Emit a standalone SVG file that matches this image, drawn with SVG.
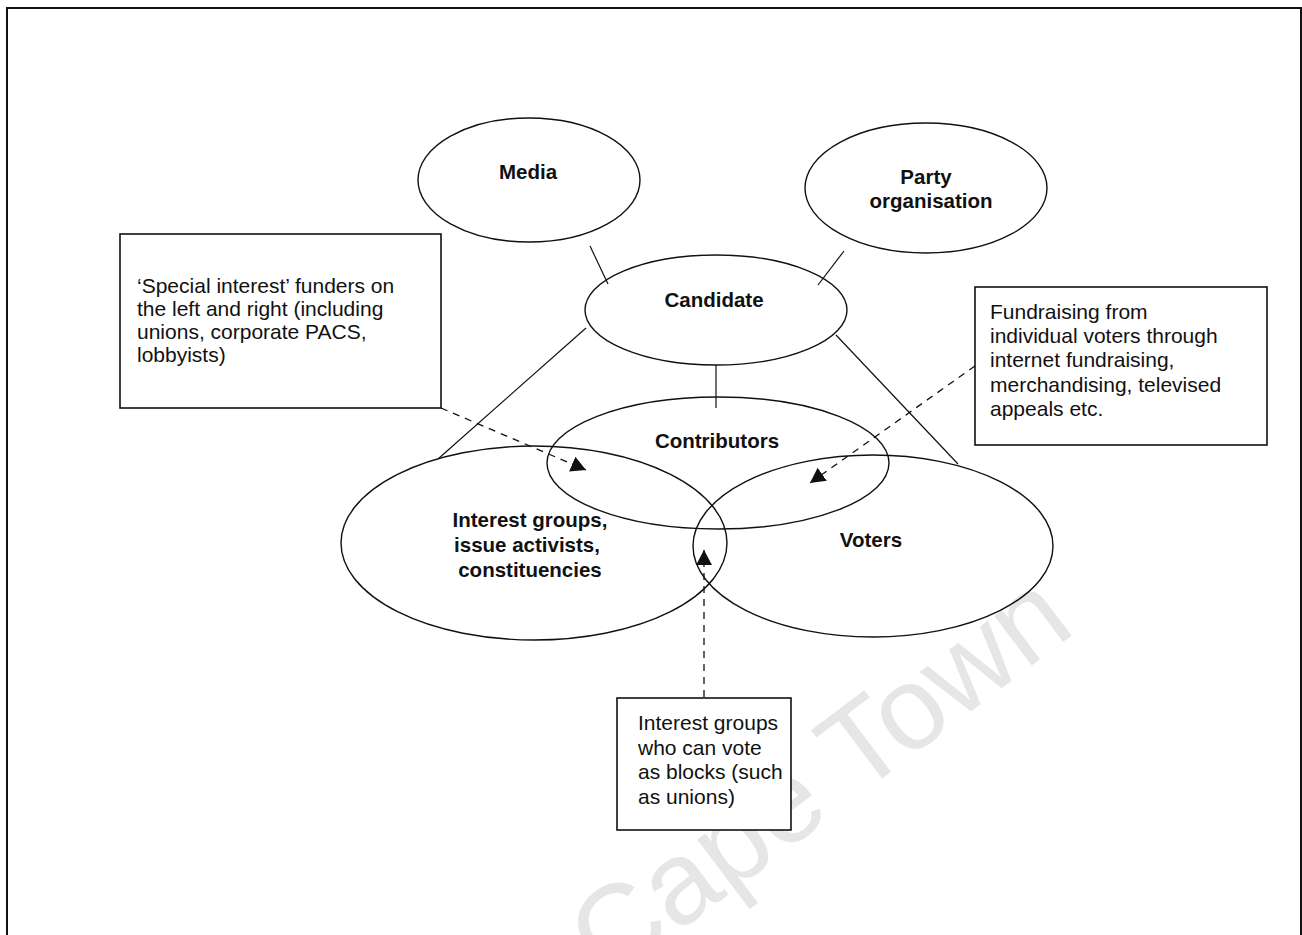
<svg xmlns="http://www.w3.org/2000/svg" width="1302" height="935" viewBox="0 0 1302 935">
<style>
.bg{fill:#fff}
.frame{fill:none;stroke:#111;stroke-width:2}
.node{fill:none;stroke:#111;stroke-width:1.4}
.box{fill:#fff;stroke:#111;stroke-width:1.6}
.lbl{font-family:"Liberation Sans",Arial,sans-serif;font-size:20.5px;font-weight:bold;fill:#111;text-anchor:middle}
.txt{font-family:"Liberation Sans",Arial,sans-serif;font-size:21px;fill:#111}
.link{fill:none;stroke:#111;stroke-width:1.2}
.dash{fill:none;stroke:#111;stroke-width:1.3;stroke-dasharray:7,6}
.wm{font-family:"Liberation Sans",Arial,sans-serif;font-size:118px;fill:#e6e6e6}
</style>
<defs>
<marker id="ah" markerWidth="18" markerHeight="18" refX="15" refY="8" orient="auto" markerUnits="userSpaceOnUse">
<path d="M0,0 L15,8 L0,16 Z" fill="#111"/>
</marker>
</defs>
<rect class="bg" x="0" y="0" width="1302" height="935"/>
<text class="wm" transform="translate(608,985) rotate(-37)">Cape Town</text>
<path class="frame" d="M7,935 L7,8 L1301,8 L1301,935"/>
<g id="connectors">
<line class="link" x1="590" y1="246" x2="608" y2="284"/>
<line class="link" x1="844" y1="251" x2="818" y2="285"/>
<line class="link" x1="586" y1="328" x2="438" y2="459"/>
<line class="link" x1="836" y1="335" x2="958" y2="464"/>
<line class="link" x1="716" y1="365" x2="716" y2="408"/>
<line class="dash" x1="441" y1="408" x2="586" y2="470" marker-end="url(#ah)"/>
<line class="dash" x1="975" y1="366" x2="810" y2="483" marker-end="url(#ah)"/>
<line class="dash" x1="704" y1="697" x2="704" y2="550" marker-end="url(#ah)"/>
</g>
<g id="media">
<ellipse class="node" cx="529" cy="180" rx="111" ry="62"/>
<text class="lbl" x="528" y="179">Media</text>
</g>
<g id="party">
<ellipse class="node" cx="926" cy="188" rx="121" ry="65"/>
<text class="lbl" x="926" y="184">Party</text>
<text class="lbl" x="931" y="208">organisation</text>
</g>
<g id="candidate">
<ellipse class="node" cx="716" cy="310" rx="131" ry="55"/>
<text class="lbl" x="714" y="307">Candidate</text>
</g>
<g id="contributors">
<ellipse class="node" cx="718" cy="463" rx="171" ry="66"/>
<text class="lbl" x="717" y="448">Contributors</text>
</g>
<g id="interest-groups">
<ellipse class="node" cx="534" cy="543" rx="193" ry="97"/>
<text class="lbl" x="530" y="527">Interest groups,</text>
<text class="lbl" x="527" y="552">issue activists,</text>
<text class="lbl" x="530" y="577">constituencies</text>
</g>
<g id="voters">
<ellipse class="node" cx="873" cy="546" rx="180" ry="91"/>
<text class="lbl" x="871" y="547">Voters</text>
</g>
<g id="box-special">
<rect class="box" x="120" y="234" width="321" height="174"/>
<text class="txt" x="137" y="293">‘Special interest’ funders on</text>
<text class="txt" x="137" y="316">the left and right (including</text>
<text class="txt" x="137" y="339">unions, corporate PACS,</text>
<text class="txt" x="137" y="362">lobbyists)</text>
</g>
<g id="box-fundraising">
<rect class="box" x="975" y="287" width="292" height="158"/>
<text class="txt" x="990" y="319">Fundraising from</text>
<text class="txt" x="990" y="343">individual voters through</text>
<text class="txt" x="990" y="367">internet fundraising,</text>
<text class="txt" x="990" y="392">merchandising, televised</text>
<text class="txt" x="990" y="416">appeals etc.</text>
</g>
<g id="box-blocks">
<rect class="box" x="617" y="698" width="174" height="132"/>
<text class="txt" x="638" y="730">Interest groups</text>
<text class="txt" x="638" y="755">who can vote</text>
<text class="txt" x="638" y="779">as blocks (such</text>
<text class="txt" x="638" y="804">as unions)</text>
</g>
</svg>
